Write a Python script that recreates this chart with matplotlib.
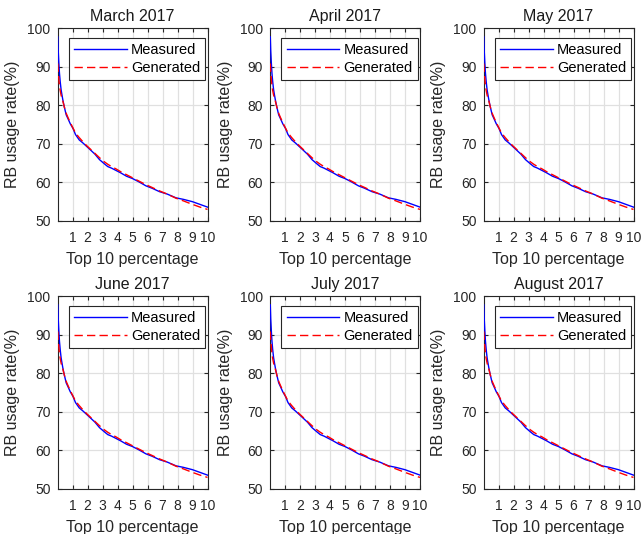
import numpy as np
import matplotlib.pyplot as plt

months = ["March 2017", "April 2017", "May 2017", "June 2017", "July 2017", "August 2017"]

x = [0.02, 0.05, 0.09, 0.13, 0.18, 0.24, 0.3, 0.36, 0.45, 0.58, 0.7, 0.85, 1.03, 1.2,
     1.45, 1.7, 1.95, 2.2, 2.5, 2.8, 3.1, 3.35, 3.6, 3.9, 4.2, 4.6, 5.0, 5.4, 5.9, 6.3,
     6.8, 7.3, 7.9, 8.4, 9.0, 9.5, 10.0]
measured = [97.7, 94.0, 90.9, 88.3, 86.1, 84.0, 82.6, 81.3, 79.6, 77.5, 76.5, 75.2, 74.0,
            72.4, 71.0, 70.2, 69.3, 68.4, 67.3, 65.9, 64.9, 64.1, 63.7, 63.1, 62.5, 61.6,
            61.0, 60.2, 59.1, 58.5, 57.6, 57.0, 56.0, 55.6, 55.0, 54.3, 53.6]
generated = [90.8, 88.6, 86.8, 85.0, 83.8, 82.6, 81.8, 81.0, 79.6, 77.9, 76.8, 75.5, 74.1,
             72.8, 71.6, 70.5, 69.5, 68.6, 67.5, 66.4, 65.4, 64.7, 64.1, 63.5, 62.8, 62.0,
             61.2, 60.4, 59.4, 58.7, 57.8, 57.0, 55.9, 55.2, 54.3, 53.6, 53.0]

xticks = [1, 2, 3, 4, 5, 6, 7, 8, 9, 10]
yticks = [50, 60, 70, 80, 90, 100]

plt.rcParams['font.family'] = ['Liberation Sans', 'DejaVu Sans']
fig = plt.figure(figsize=(6.41, 5.34), dpi=100)

lefts = [57.5, 270, 483.5]
tops = [28, 296]
W, H = 150, 193
dark = '#262626'

for i, title in enumerate(months):
    r, c = divmod(i, 3)
    ax = fig.add_axes([lefts[c] / 641, 1 - (tops[r] + H) / 534, W / 641, H / 534])
    ax.plot(x, measured, color='b', lw=1.0, label='Measured', zorder=3)
    ax.plot(x, generated, color='r', lw=1.0, ls=(0, (6, 3)), label='Generated', zorder=3)
    ax.set_xlim(0, 10)
    ax.set_ylim(50, 100)
    ax.set_xticks(xticks)
    ax.set_yticks(yticks)
    ax.grid(True, color='#e0e0e0', lw=0.9)
    ax.set_axisbelow(True)
    ax.tick_params(direction='in', top=True, right=True, length=3, labelsize=10,
                   colors=dark)
    ax.tick_params(axis='x', pad=7)
    ax.tick_params(axis='y', pad=5)
    for s in ax.spines.values():
        s.set_color(dark)
        s.set_linewidth(0.8)
    ax.set_title(title, fontsize=11.5, color='#1a1a1a', pad=5)
    ax.set_xlabel('Top 10 percentage', fontsize=11.5, color=dark, labelpad=5)
    ax.set_ylabel('RB usage rate(%)', fontsize=11.5, color=dark, labelpad=5)
    leg = ax.legend(loc='upper right', fontsize=10.5, fancybox=False, framealpha=1,
                    edgecolor=dark, handlelength=3.6, handletextpad=0.3,
                    borderpad=0.35, labelspacing=0.3, borderaxespad=0,
                    bbox_to_anchor=(0.985, 0.95))
    leg.set_zorder(5)
    leg.get_frame().set_linewidth(0.8)

fig.savefig('out.png', dpi=100)
